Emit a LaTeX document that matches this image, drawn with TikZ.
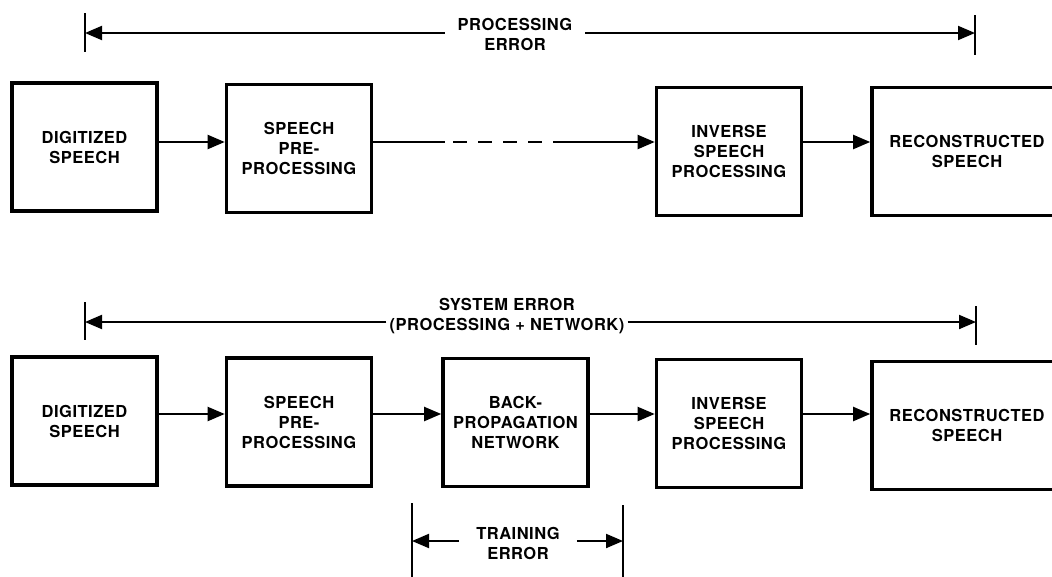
\documentclass[tikz,border=0pt]{standalone}
\usepackage{fontspec}
\newfontfamily\lblfont[LetterSpace=3]{TeX Gyre Heros}
\usetikzlibrary{arrows.meta}
\begin{document}
\begin{tikzpicture}[x=1pt,y=-1pt,
  txt/.style={font=\lblfont\bfseries\fontsize{16.5}{20}\selectfont},
  box/.style={txt, draw, line width=3.6pt, minimum width=145pt, minimum height=128pt, align=center, inner sep=0pt},
  lbl/.style={txt, align=center, inner ysep=0pt},
  conn/.style={line width=2pt, -{Triangle[length=17pt,width=14pt]}},
  plain/.style={line width=2pt},
  bar/.style={line width=2.4pt}]
\useasboundingbox (0,0) rectangle (1052,576);
\clip (0,0) rectangle (1052,576);

% ---------- top row ----------
\node[box] (D1) at (84.5,147) {DIGITIZED\\SPEECH};
\node[box] (S1) at (299,148.5) {SPEECH\\PRE-\\PROCESSING};
\node[box] (I1) at (729,151.5) {INVERSE\\SPEECH\\PROCESSING};
\node[box, minimum width=190pt] (R1) at (967,151.5) {RECONSTRUCTED\\SPEECH};

\coordinate (t1) at (0,142);
\coordinate (da) at (445,142);
\coordinate (db) at (453,142);
\coordinate (dc) at (542,142);
\coordinate (dd) at (553,142);
\draw[conn] (D1.east |- t1) -- (S1.west |- t1);
\draw[plain] (S1.east |- t1) -- (da);
\draw[plain, dash pattern=on 14pt off 11pt] (db) -- (dc);
\draw[conn] (dd) -- (I1.west |- t1);
\draw[conn] (I1.east |- t1) -- (R1.west |- t1);

% processing error dimension
\coordinate (pl) at (85,33);
\coordinate (pr) at (975,33);
\draw[bar] (pl) ++(0,-20) -- ++(0,39);
\draw[bar] (pr) ++(0,-18) -- ++(0,40);
\node[lbl, inner xsep=13pt] (pe) at (515,34.5) {PROCESSING\\ERROR};
\draw[conn] (pe.west |- pl) -- (pl);
\draw[conn] (pe.east |- pr) -- (pr);

% ---------- bottom row ----------
\node[box] (D2) at (84.5,421) {DIGITIZED\\SPEECH};
\node[box] (S2) at (299,422) {SPEECH\\PRE-\\PROCESSING};
\node[box] (B2) at (515.5,422.5) {BACK-\\PROPAGATION\\NETWORK};
\node[box] (I2) at (729,423.5) {INVERSE\\SPEECH\\PROCESSING};
\node[box, minimum width=190pt] (R2) at (967,425.5) {RECONSTRUCTED\\SPEECH};

\coordinate (t2) at (0,414);
\draw[conn] (D2.east |- t2) -- (S2.west |- t2);
\draw[conn] (S2.east |- t2) -- (B2.west |- t2);
\draw[conn] (B2.east |- t2) -- (I2.west |- t2);
\draw[conn] (I2.east |- t2) -- (R2.west |- t2);

% system error dimension
\coordinate (sl) at (85,322);
\coordinate (sr) at (976,322);
\draw[bar] (sl) ++(0,-20) -- ++(0,38);
\draw[bar] (sr) ++(0,-16) -- ++(0,39);
\node[lbl, inner xsep=3pt] (se) at (507,316.5) {SYSTEM ERROR\\(PROCESSING + NETWORK)};
\draw[conn] (se.west |- sl) -- (sl);
\draw[conn] (se.east |- sr) -- (sr);

% training error dimension
\coordinate (tl) at (412,541);
\coordinate (tr) at (623,541);
\draw[bar] (tl) ++(0,-38) -- ++(0,80);
\draw[bar] (tr) ++(0,-36) -- ++(0,80);
\node[lbl, inner xsep=17pt] (te) at (518,543) {TRAINING\\ERROR};
\draw[conn] (te.west |- tl) -- (tl);
\draw[conn] (te.east |- tr) -- (tr);
\end{tikzpicture}
\end{document}
